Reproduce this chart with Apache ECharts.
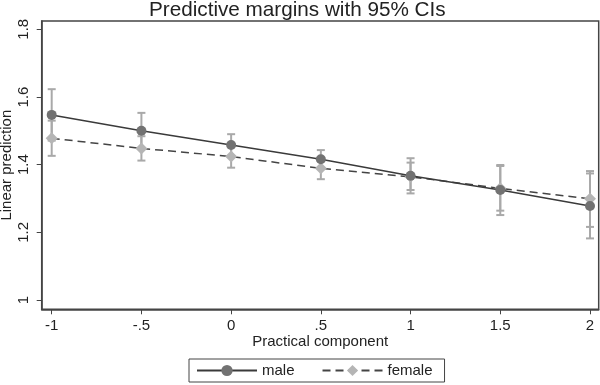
<!DOCTYPE html>
<html>
<head>
<meta charset="utf-8">
<script src="https://cdn.jsdelivr.net/npm/echarts@6/dist/echarts.min.js"></script>
<style>html,body{margin:0;padding:0;background:#fff}#c{width:600px;height:385px}</style>
</head>
<body>
<div id="c"></div>
<script>
var xValues = [-1, -0.5, 0, 0.5, 1, 1.5, 2];
var xTickLabels = ["-1", "-.5", "0", ".5", "1", "1.5", "2"];
var yTicks = [1, 1.2, 1.4, 1.6, 1.8];

var maleMean  = [1.547, 1.500, 1.458, 1.416, 1.367, 1.325, 1.278];
var maleLow   = [1.471, 1.447, 1.426, 1.389, 1.315, 1.251, 1.182];
var maleHigh  = [1.623, 1.553, 1.490, 1.443, 1.419, 1.399, 1.374];

var femaleMean = [1.478, 1.448, 1.424, 1.389, 1.364, 1.330, 1.299];
var femaleLow  = [1.426, 1.412, 1.391, 1.357, 1.325, 1.264, 1.216];
var femaleHigh = [1.530, 1.484, 1.456, 1.421, 1.406, 1.396, 1.381];

var FONT = '"Liberation Sans", Arial, sans-serif';
var ciColor = '#a9a9a9';

function pairs(xs, ys) { return xs.map(function (x, i) { return [x, ys[i]]; }); }
function ciData(xs, lo, hi) { return xs.map(function (x, i) { return [x, lo[i], hi[i]]; }); }

function renderCI(params, api) {
  var x = api.value(0);
  var p1 = api.coord([x, api.value(1)]);
  var p2 = api.coord([x, api.value(2)]);
  var hw = 4;
  var st = { stroke: ciColor, lineWidth: 2 };
  return {
    type: 'group',
    children: [
      { type: 'line', shape: { x1: p1[0], y1: p1[1], x2: p2[0], y2: p2[1] }, style: st },
      { type: 'line', shape: { x1: p1[0] - hw, y1: p1[1], x2: p1[0] + hw, y2: p1[1] }, style: st },
      { type: 'line', shape: { x1: p2[0] - hw, y1: p2[1], x2: p2[0] + hw, y2: p2[1] }, style: st }
    ]
  };
}

var chart = echarts.init(document.getElementById('c'), null, { renderer: 'canvas' });
chart.setOption({
  animation: false,
  backgroundColor: '#fff',
  textStyle: { fontFamily: FONT },
  title: {
    text: 'Predictive margins with 95% CIs',
    left: 149,
    top: 0,
    padding: 0,
    textStyle: { fontFamily: FONT, fontSize: 20.7, fontWeight: 'normal', color: '#222' }
  },
  legend: {
    left: 189, top: 359,
    padding: [4, 12, 4, 7],
    borderColor: '#444', borderWidth: 1,
    itemWidth: 60, itemHeight: 14, itemGap: 27,
    textStyle: { fontFamily: FONT, fontSize: 15, color: '#222' },
    data: ['male', 'female']
  },
  grid: {
    left: 41.7, right: 1.3, top: 21, bottom: 75.7,
    containLabel: false,
    outerBoundsMode: 'none',
    show: true, borderColor: '#444', borderWidth: 1.5
  },
  xAxis: {
    type: 'value',
    min: -1.0557, max: 2.0485,
    name: 'Practical component',
    nameLocation: 'middle', nameGap: 25, nameMoveOverlap: false,
    nameTextStyle: { fontFamily: FONT, fontSize: 15, color: '#222' },
    axisLine: { show: true, onZero: false, lineStyle: { color: '#444', width: 1.5 } },
    axisTick: { show: true, length: 5, customValues: xValues, lineStyle: { color: '#444' } },
    axisLabel: {
      customValues: xValues, margin: 9,
      fontFamily: FONT, fontSize: 15, color: '#222',
      formatter: function (v) {
        for (var i = 0; i < xValues.length; i++) if (Math.abs(xValues[i] - v) < 1e-9) return xTickLabels[i];
        return '';
      }
    },
    splitLine: { show: false }
  },
  yAxis: {
    type: 'value',
    min: 0.9725, max: 1.8245,
    name: 'Linear prediction',
    nameLocation: 'middle', nameGap: 27, nameMoveOverlap: false,
    nameTextStyle: { fontFamily: FONT, fontSize: 15, color: '#222' },
    axisLine: { show: true, onZero: false, lineStyle: { color: '#444', width: 1.5 } },
    axisTick: { show: true, length: 5, customValues: yTicks, lineStyle: { color: '#444' } },
    axisLabel: {
      customValues: yTicks, margin: 10, rotate: 90,
      fontFamily: FONT, fontSize: 15, color: '#222',
      formatter: function (v) { return String(Math.round(v * 10) / 10); }
    },
    splitLine: { show: false }
  },
  series: [
    { type: 'custom', name: 'maleCI', renderItem: renderCI, data: ciData(xValues, maleLow, maleHigh), z: 1, silent: true },
    { type: 'custom', name: 'femaleCI', renderItem: renderCI, data: ciData(xValues, femaleLow, femaleHigh), z: 1, silent: true },
    {
      type: 'line', name: 'male', data: pairs(xValues, maleMean), z: 3,
      symbol: 'circle', symbolSize: 10,
      itemStyle: { color: '#727272' },
      lineStyle: { color: '#3a3a3a', width: 1.5 }
    },
    {
      type: 'line', name: 'female', data: pairs(xValues, femaleMean), z: 2,
      symbol: 'diamond', symbolSize: 12,
      itemStyle: { color: '#b5b5b5' },
      lineStyle: { color: '#444', width: 1.5, type: [8, 5] }
    }
  ]
});
</script>
</body>
</html>
